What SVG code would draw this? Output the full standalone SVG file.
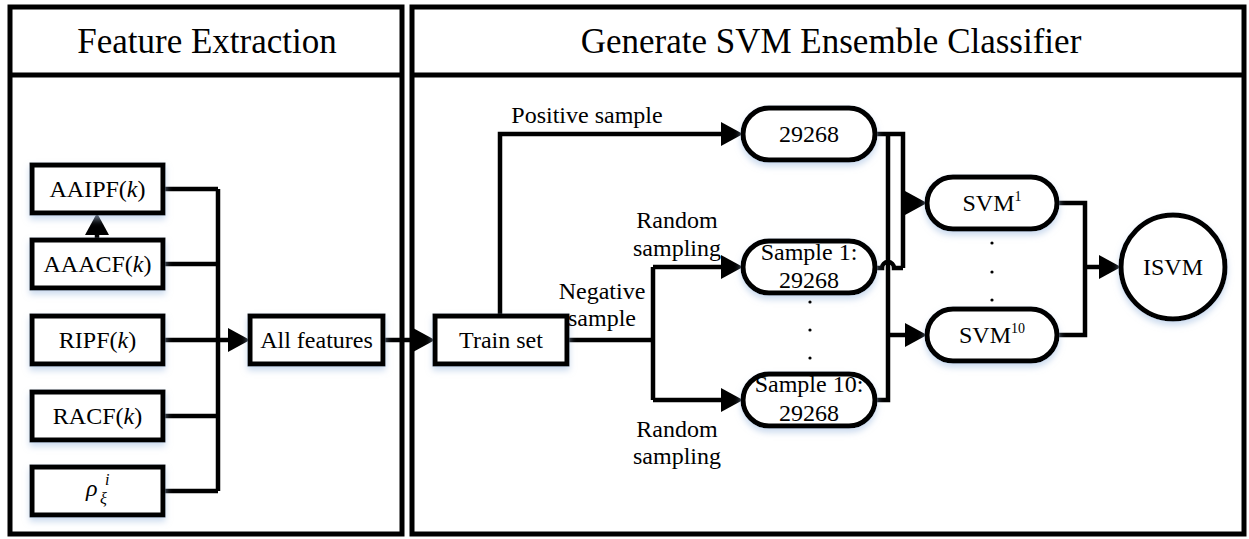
<svg xmlns="http://www.w3.org/2000/svg" width="1249" height="539" viewBox="0 0 1249 539" font-family="'Liberation Serif', 'DejaVu Serif', 'Times New Roman', serif">
<defs>
<filter id="sh" x="-20%" y="-20%" width="140%" height="160%">
<feDropShadow dx="0" dy="4" stdDeviation="3" flood-color="#a9c3e3" flood-opacity="0.6"/>
</filter>
<marker id="ah" markerUnits="userSpaceOnUse" markerWidth="24" markerHeight="26" refX="0" refY="12" orient="auto" overflow="visible">
<path d="M0,0 L22,12 L0,24 Z" fill="#000"/>
</marker>
</defs>
<style>
text{font-family:'Liberation Serif','DejaVu Serif','Times New Roman',serif;fill:#000}
.t{font-size:24px;text-anchor:middle}
.h{font-size:35px;text-anchor:middle}
.box{fill:#fff;stroke:#000;stroke-width:5;filter:url(#sh)}
.panel{fill:#fff;stroke:#000;stroke-width:5}
.ln{fill:none;stroke:#000;stroke-width:4.5}
.ar{fill:none;stroke:#000;stroke-width:4.5;marker-end:url(#ah)}
</style>
<rect width="1249" height="539" fill="#fff"/>

<g id="panel-feature">
<rect class="panel" x="10" y="7" width="392" height="527"/>
<line x1="10" y1="75" x2="402" y2="75" stroke="#000" stroke-width="5"/>
<text class="h" x="207" y="53">Feature Extraction</text>
</g>
<g id="panel-svm">
<rect class="panel" x="412" y="7" width="832" height="527"/>
<line x1="412" y1="75" x2="1244" y2="75" stroke="#000" stroke-width="5"/>
<text class="h" x="831" y="53">Generate SVM Ensemble Classifier</text>
</g>

<g id="connectors">
<path class="ln" d="M163,189 H218 M163,264 H218 M163,416 H218 M163,491 H218 M218,189 V491"/>
<path class="ar" d="M163,340 H228"/>
<path class="ar" d="M97,240 V235"/>
<path class="ar" d="M383,340 H413"/>
<path class="ar" d="M500,316 V134 H721"/>
<path class="ln" d="M567,340 H653 M653,267 V400"/>
<path class="ar" d="M653,267 H721"/>
<path class="ar" d="M653,400 H721"/>
<path class="ln" d="M875,134 H903 V268 M888,134 V400 H875"/>
<path class="ln" d="M875,268 H882 A6,6 0 0 1 894,268 H903"/>
<path class="ar" d="M901,203 H905"/>
<path class="ar" d="M886,335 H905"/>
<path class="ln" d="M1057,203 H1085 V335 H1057"/>
<path class="ar" d="M1083,267 H1099"/>
</g>

<g id="n-aaipf"><rect class="box" x="32" y="165" width="131" height="48"/><text class="t" x="97.5" y="197">AAIPF(<tspan font-style="italic">k</tspan>)</text></g>
<g id="n-aaacf"><rect class="box" x="32" y="240" width="131" height="48"/><text class="t" x="97.5" y="272">AAACF(<tspan font-style="italic">k</tspan>)</text></g>
<g id="n-ripf"><rect class="box" x="32" y="316" width="131" height="48"/><text class="t" x="97.5" y="348">RIPF(<tspan font-style="italic">k</tspan>)</text></g>
<g id="n-racf"><rect class="box" x="32" y="392" width="131" height="48"/><text class="t" x="97.5" y="424">RACF(<tspan font-style="italic">k</tspan>)</text></g>
<g id="n-rho"><rect class="box" x="32" y="467" width="131" height="48"/><text style="font-size:24px;font-style:italic" x="86" y="496">ρ<tspan x="100" y="504" style="font-size:16px">ξ</tspan><tspan x="105" y="485" style="font-size:16px">i</tspan></text></g>
<g id="n-all"><rect class="box" x="250" y="316" width="133" height="48"/><text class="t" x="316.5" y="348">All features</text></g>
<g id="n-train"><rect class="box" x="435" y="316" width="132" height="48"/><text class="t" x="501" y="348">Train set</text></g>

<g id="n-pos"><rect class="box" x="743" y="108" width="132" height="52" rx="26"/><text class="t" x="809" y="142">29268</text></g>
<g id="n-s1"><rect class="box" x="743" y="241" width="132" height="52" rx="26"/><text class="t" x="809" y="260">Sample 1:</text><text class="t" x="809" y="288">29268</text></g>
<g id="n-s10"><rect class="box" x="743" y="374" width="132" height="52" rx="26"/><text class="t" x="809" y="392">Sample 10:</text><text class="t" x="809" y="421">29268</text></g>
<g id="n-svm1"><rect class="box" x="927" y="177" width="130" height="52" rx="26"/><text class="t" x="992" y="211">SVM<tspan dy="-10" style="font-size:14px">1</tspan></text></g>
<g id="n-svm10"><rect class="box" x="927" y="309" width="130" height="52" rx="26"/><text class="t" x="992" y="343">SVM<tspan dy="-10" style="font-size:14px">10</tspan></text></g>
<g id="n-isvm"><circle class="box" cx="1173" cy="267" r="52"/><text class="t" x="1173" y="275">ISVM</text></g>

<g id="labels">
<text class="t" x="587" y="123">Positive sample</text>
<text class="t" x="677" y="228">Random</text>
<text class="t" x="677" y="256">sampling</text>
<text class="t" x="602" y="299">Negative</text>
<text class="t" x="602" y="326">sample</text>
<text class="t" x="677" y="437">Random</text>
<text class="t" x="677" y="464">sampling</text>
</g>
<g id="dots" fill="#000">
<circle cx="810" cy="302" r="1.6"/><circle cx="810" cy="330" r="1.6"/><circle cx="810" cy="358" r="1.6"/>
<circle cx="992" cy="243" r="1.6"/><circle cx="992" cy="272" r="1.6"/><circle cx="992" cy="300" r="1.6"/>
</g>
</svg>
